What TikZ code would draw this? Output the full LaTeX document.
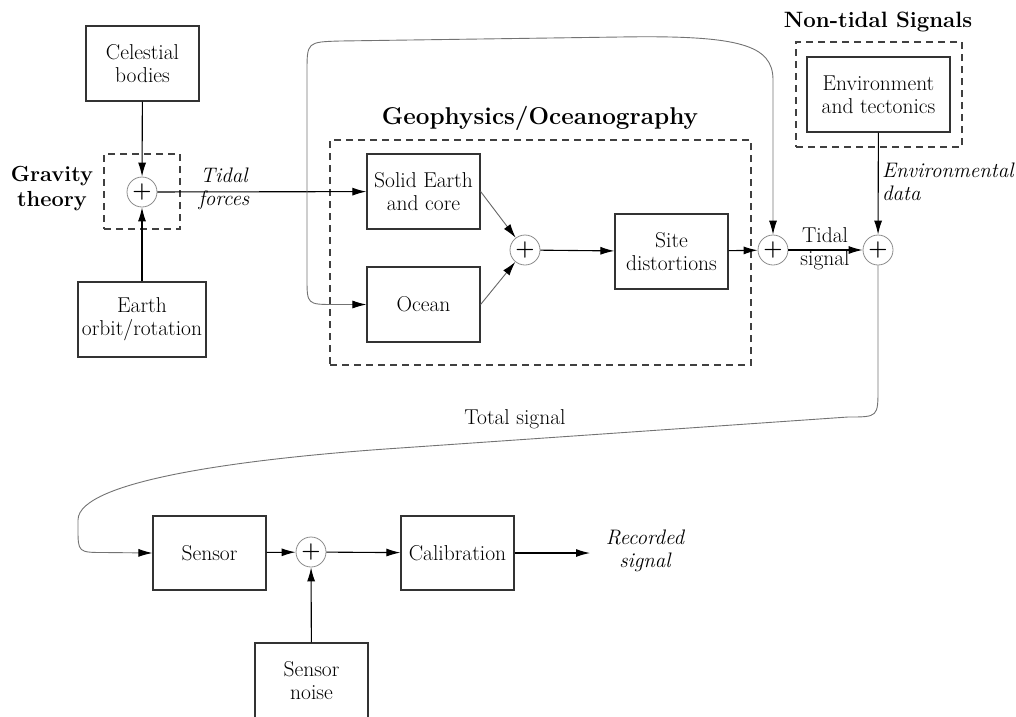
\documentclass[tikz,border=0pt]{standalone}
\usepackage{fontspec}
\usetikzlibrary{arrows.meta}
\begin{document}
\begin{tikzpicture}[x=1pt,y=-1pt,
  box/.style={draw=black!80, line width=1.2pt, minimum width=113pt, minimum height=75pt,
    inner sep=0pt, align=center, font=\fontsize{21.5}{23}\selectfont},
  sumnode/.style={circle, draw=black!45, line width=0.8pt, minimum size=30pt, inner sep=0pt,
    font=\fontsize{22}{22}\selectfont\bfseries},
  dbox/.style={draw=black!75, dash pattern=on 7pt off 5pt, line width=1.1pt, inner sep=0pt},
  lbl/.style={align=center, inner sep=0pt, font=\fontsize{21.5}{23}\selectfont},
  ilbl/.style={align=center, inner sep=0pt, font=\fontsize{21}{23}\selectfont\itshape},
  conn/.style={line width=1.1pt, -{Latex[length=14pt,width=8pt]}},
  thin/.style={draw=black!60, line width=0.9pt, -{Latex[length=14pt,width=8pt,color=black]}},
  curve/.style={draw=black!55, line width=0.9pt, -{Latex[length=14pt,width=8pt,color=black]}}
]
\clip (0,0) rectangle (1016,716);

% Gravity theory block
\node[box] (cel) at (142.5,63.5) {Celestial\\bodies};
\node[dbox, minimum width=76pt, minimum height=75pt] (gbox) at (142,191.5) {};
\node[sumnode] (sumG) at (142,192) {+};
\node[box, minimum width=128pt] (earth) at (142,319.5) {Earth\\orbit/rotation};
\node[lbl, font=\fontsize{21.8}{25}\selectfont\bfseries] (glbl) at (52,189) {Gravity\\theory};
\node[ilbl] (tf) at (224,189) {Tidal\\forces};

% Geophysics block
\node[dbox, minimum width=421pt, minimum height=225pt] (geobox) at (540.5,252.5) {};
\node[lbl, font=\fontsize{24.3}{26}\selectfont\bfseries] (geot) at (540,118) {Geophysics/Oceanography};
\node[box] (solid) at (423.5,191.5) {Solid Earth\\and core};
\node[box] (ocean) at (423.5,304.5) {Ocean};
\node[sumnode] (sumM) at (525,250) {+};
\node[box] (site) at (671.5,251.5) {Site\\distortions};
\node[sumnode] (sumR) at (773,250) {+};

% Non-tidal block
\node[dbox, minimum width=166pt, minimum height=105pt] (ntbox) at (879,94.5) {};
\node[lbl, font=\fontsize{22.2}{24}\selectfont\bfseries] (ntt) at (878,22) {Non-tidal Signals};
\node[box, minimum width=143pt] (env) at (878.5,94.5) {Environment\\and tectonics};
\node[sumnode] (sumNT) at (878,250) {+};
\node[ilbl, align=left, anchor=west] (envd) at (882,182) {Environmental\\data};
\node[lbl] (tsig) at (825,249) {Tidal\\signal};

% Bottom row
\node[lbl] (total) at (515,419) {Total signal};
\node[box, minimum height=74pt] (sensor) at (209.5,553) {Sensor};
\node[sumnode] (sumS) at (311,552) {+};
\node[box, minimum height=74pt] (calib) at (457.5,553) {Calibration};
\node[box] (noise) at (311.5,680.5) {Sensor\\noise};
\coordinate (recEnd) at (590,553);
\node[ilbl] (rec) at (645,551) {Recorded\\signal};

% Connectors
\draw[conn] (cel) -- (sumG);
\draw[conn] (earth) -- (sumG);
\draw[conn] (sumG) -- (solid);
\draw[thin] (solid.east) -- (sumM);
\draw[thin] (ocean.east) -- (sumM);
\draw[conn] (sumM) -- (site);
\draw[conn] (site) -- (sumR);
\draw[conn] (sumR) -- (sumNT);
\draw[conn] (env) -- (sumNT);
\draw[conn] (sensor) -- (sumS);
\draw[conn] (noise) -- (sumS);
\draw[conn] (sumS) -- (calib);
\draw[conn] (calib) -- (recEnd);

% Loops
\coordinate (br) at (307,192);
\draw[curve] (br) -- (307,278) .. controls (307,304.5) .. (335,304.5) -- (ocean.west);
\draw[curve] (br) -- (307,72) .. controls (307,42) .. (340,41) -- (620,37)
  .. controls (740,35) and (773,45) .. (773,80) -- (sumR.north);
\draw[curve] (sumNT.south) -- (878,388) .. controls (878,417) .. (848,417) -- (400,448)
  .. controls (250,458) and (78,480) .. (78,520) -- (78,528)
  .. controls (78,552.5) .. (105,552.5) -- (sensor.west);
\end{tikzpicture}
\end{document}
